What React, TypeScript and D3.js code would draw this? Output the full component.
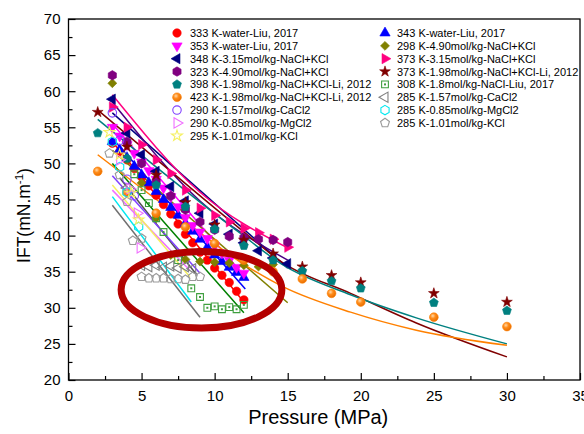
import React, { useEffect, useRef } from 'react';
import * as d3 from 'd3';

const FONT = "Arial, 'Liberation Sans', sans-serif";

// ticks
const xTicks = [0, 5, 10, 15, 20, 25, 30, 35];
const xMinorTicks = [2.5, 7.5, 12.5, 17.5, 22.5, 27.5, 32.5];
const yTicks = [20, 25, 30, 35, 40, 45, 50, 55, 60, 65, 70];
const yMinorTicks = [22.5, 27.5, 32.5, 37.5, 42.5, 47.5, 52.5, 57.5, 62.5, 67.5];

// Liu 2017, water
const pLiu = [3, 3.5, 4, 4.5, 5, 5.5, 6, 6.5, 7, 7.5, 8, 8.5, 9, 9.5, 10, 10.5, 11, 11.5, 12];
const ift333 = [52.8, 51.6, 50.5, 49.3, 48.1, 46.9, 45.6, 44.3, 43.0, 41.6, 40.2, 39.0, 37.7, 36.6, 35.5, 34.5, 33.5, 32.3, 31.1];
const ift343 = [53.0, 51.9, 50.8, 49.6, 48.4, 47.3, 46.1, 45.0, 43.9, 42.8, 41.7, 40.6, 39.5, 38.4, 37.3, 36.4, 35.6, 34.9, 34.2];
const ift353 = [55.0, 53.8, 52.6, 51.4, 50.2, 49.0, 47.8, 46.6, 45.4, 44.0, 42.5, 41.4, 40.5, 39.6, 38.6, 37.6, 36.6, 35.6, 34.8];
const fit333 = [[3, 53.0], [12, 30.8]];
const fit343 = [[3, 53.5], [12.1, 32.6]];
const fit353 = [[3, 55.5], [12, 34.5]];

// NaCl+KCl brines
const p298 = [3, 4, 5, 6, 7, 8, 9, 10, 11, 12, 13, 14];
const ift298 = [61.1, 50.5, 47.3, 42.4, 37.3, 36.7, 36.4, 36.3, 36.2, 35.9, 35.7, 36.0];
const fit298 = [[3, 51.8], [15, 30.7]];
const pNaKCl = [3, 4, 5, 6, 7, 8, 9, 10, 11, 12, 13, 14, 15];
const ift348 = [58.9, 54.2, 51.2, 48.9, 46.8, 44.8, 43.1, 41.6, 40.2, 39.0, 37.9, 36.9, 36.1];
const fit348 = [[3, 57.0], [15, 35.5]];
const ift373p = [57.8, 55.0, 52.6, 50.5, 48.6, 46.3, 43.8, 42.8, 41.9, 41.0, 40.4, 39.5, 38.4];
const fit373p = [[3, 59.5], [9, 46.0], [15, 38.3]];
const ift323 = [62.2, 53.0, 50.0, 47.5, 45.5, 43.6, 41.9, 40.8, 39.9, 39.7, 39.5, 39.4, 39.1];
const fit323 = [[3, 58.5], [9, 44.8], [15, 36.6]];

// Li 2012, NaCl+KCl 1.98 mol/kg
const pLi = [2, 4, 6, 8, 10, 12, 14, 16, 18, 20, 25, 30];
const ift373m = [57.1, 52.3, 48.4, 44.6, 41.5, 39.4, 37.5, 35.7, 34.5, 33.5, 32.0, 30.8];
const ift398 = [54.2, 50.7, 47.0, 44.0, 40.9, 38.6, 36.6, 35.1, 33.7, 32.7, 30.7, 29.6];
const ift423 = [48.9, 46.0, 43.1, 41.2, 38.9, 36.6, 35.0, 34.0, 32.0, 30.8, 28.7, 27.4];
const fit373m = [[2, 57.4], [6, 50.6], [11.7, 41.0], [14.7, 36.2], [19.3, 32.0], [23.8, 27.9], [30, 23.2]];
const fit398 = [[2, 56.1], [11.7, 40.4], [14.7, 35.9], [19.3, 31.8], [23.8, 28.6], [30, 25.0]];
const fit423 = [[2, 51.2], [7, 43.5], [12.4, 35.5], [14.7, 32.9], [19.3, 29.4], [23.8, 26.9], [30, 24.8]];

// Liu 2017, NaCl 1.8 mol/kg
const p308 = [4.5, 5, 5.5, 6, 6.5, 7.5, 8.4, 9, 9.5, 10, 10.5, 11, 11.5, 12];
const ift308 = [48.5, 46.3, 44.5, 42.4, 40.5, 36.6, 32.7, 31.5, 30.0, 30.2, 29.8, 30.1, 29.8, 30.4];
const fit308 = [[3, 50.0], [12, 29.3]];

// low temperature salts
const p290Ca = [3, 3.5, 4, 4.5];
const ift290Ca = [57.0, 53.2, 47.8, 45.5];
const fit290Ca = [[3, 48.3], [9, 34.8]];
const p290Mg = [3.5, 4.2, 4.7, 4.9];
const ift290Mg = [50.5, 46.5, 43.1, 38.3];
const fit290Mg = [[3, 46.3], [8.3, 35.2]];
const p295K = [2.8, 3.5, 4.3, 4.8];
const ift295K = [54.3, 51.2, 45.9, 42.2];
const fit295K = [[3, 47.0], [8.3, 34.3]];
const p285Ca = [4, 5, 5.5, 6, 6.5, 7, 7.5, 8, 8.5];
const ift285Ca = [46.6, 35.9, 35.7, 35.9, 35.6, 35.8, 35.5, 35.7, 35.4];
const fit285Ca = [[3.5, 48.0], [8.8, 34.5]];
const p285Mg = [3, 3.5, 4, 4.8];
const ift285Mg = [53.0, 49.5, 46.0, 41.2];
const fit285Mg = [[3, 45.4], [8.4, 30.8]];
const p285K = [2.8, 3.5, 4, 4.4, 5, 5, 5.5, 6, 6.5, 7, 7.5, 8, 8.5, 9];
const ift285K = [51.4, 48.4, 44.7, 39.3, 39.6, 34.3, 34.1, 34.1, 34.1, 34.0, 34.0, 33.9, 34.3, 34.3];
const fit285K = [[3, 44.2], [9, 28.7]];

// highlighted region (annotation)
const ellipseCenter = [9.1, 32.5];
const ellipseRadius = [5.5, 5.3];

type Shape = 'circle' | 'triUp' | 'triDown' | 'triLeft' | 'triRight' | 'diamond' | 'star' | 'square' | 'pentagon' | 'hexagon' | 'sphere';

interface Series {
  label: string;
  xs: number[];
  ys: number[];
  fit: number[][];
  color: string;
  lineColor?: string;
  shape: Shape;
  filled: boolean;
}

// legend order (row by row, two columns)
const series: Series[] = [
  { label: '333 K-water-Liu, 2017', xs: pLiu, ys: ift333, fit: fit333, color: '#ff0000', shape: 'circle', filled: true },
  { label: '343 K-water-Liu, 2017', xs: pLiu, ys: ift343, fit: fit343, color: '#0000ff', shape: 'triUp', filled: true },
  { label: '353 K-water-Liu, 2017', xs: pLiu, ys: ift353, fit: fit353, color: '#ff00ff', shape: 'triDown', filled: true },
  { label: '298 K-4.90mol/kg-NaCl+KCl', xs: p298, ys: ift298, fit: fit298, color: '#808000', shape: 'diamond', filled: true },
  { label: '348 K-3.15mol/kg-NaCl+KCl', xs: pNaKCl, ys: ift348, fit: fit348, color: '#000080', shape: 'triLeft', filled: true },
  { label: '373 K-3.15mol/kg-NaCl+KCl', xs: pNaKCl, ys: ift373p, fit: fit373p, color: '#ff0080', shape: 'triRight', filled: true },
  { label: '323 K-4.90mol/kg-NaCl+KCl', xs: pNaKCl, ys: ift323, fit: fit323, color: '#800080', lineColor: '#4b0082', shape: 'hexagon', filled: true },
  { label: '373 K-1.98mol/kg-NaCl+KCl-Li, 2012', xs: pLi, ys: ift373m, fit: fit373m, color: '#800000', shape: 'star', filled: true },
  { label: '398 K-1.98mol/kg-NaCl+KCl-Li, 2012', xs: pLi, ys: ift398, fit: fit398, color: '#008080', shape: 'pentagon', filled: true },
  { label: '308 K-1.8mol/kg-NaCl-Liu, 2017', xs: p308, ys: ift308, fit: fit308, color: '#3f9f3f', lineColor: '#008000', shape: 'square', filled: false },
  { label: '423 K-1.98mol/kg-NaCl+KCl-Li, 2012', xs: pLi, ys: ift423, fit: fit423, color: '#ff8000', shape: 'sphere', filled: true },
  { label: '285 K-1.57mol/kg-CaCl2', xs: p285Ca, ys: ift285Ca, fit: fit285Ca, color: '#808080', lineColor: '#505050', shape: 'triLeft', filled: false },
  { label: '290 K-1.57mol/kg-CaCl2', xs: p290Ca, ys: ift290Ca, fit: fit290Ca, color: '#8040ff', shape: 'circle', filled: false },
  { label: '285 K-0.85mol/kg-MgCl2', xs: p285Mg, ys: ift285Mg, fit: fit285Mg, color: '#00e8f0', shape: 'hexagon', filled: false },
  { label: '290 K-0.85mol/kg-MgCl2', xs: p290Mg, ys: ift290Mg, fit: fit290Mg, color: '#f070ff', shape: 'triRight', filled: false },
  { label: '285 K-1.01mol/kg-KCl', xs: p285K, ys: ift285K, fit: fit285K, color: '#9a9a9a', lineColor: '#707070', shape: 'pentagon', filled: false },
  { label: '295 K-1.01mol/kg-KCl', xs: p295K, ys: ift295K, fit: fit295K, color: '#f5f060', shape: 'star', filled: false },
];

const polygon = (n: number) => ({
  draw(ctx: any, size: number) {
    const r = Math.sqrt((2 * size) / (n * Math.sin((2 * Math.PI) / n)));
    for (let i = 0; i < n; i++) {
      const a = (i * 2 * Math.PI) / n;
      const px = r * Math.sin(a);
      const py = -r * Math.cos(a);
      if (i === 0) ctx.moveTo(px, py);
      else ctx.lineTo(px, py);
    }
    ctx.closePath();
  },
});

const shapeDefs: Record<Shape, { type: any; size: number; rotate: number }> = {
  circle: { type: d3.symbolCircle, size: 56, rotate: 0 },
  sphere: { type: d3.symbolCircle, size: 60, rotate: 0 },
  triUp: { type: d3.symbolTriangle, size: 46, rotate: 0 },
  triDown: { type: d3.symbolTriangle, size: 46, rotate: 180 },
  triLeft: { type: d3.symbolTriangle, size: 46, rotate: -90 },
  triRight: { type: d3.symbolTriangle, size: 46, rotate: 90 },
  diamond: { type: d3.symbolSquare, size: 40, rotate: 45 },
  star: { type: d3.symbolStar, size: 36, rotate: 0 },
  square: { type: d3.symbolSquare, size: 46, rotate: 0 },
  pentagon: { type: polygon(5), size: 52, rotate: 0 },
  hexagon: { type: polygon(6), size: 58, rotate: 0 },
};

const W = 584;
const H = 434;

function drawMarker(g: any, s: Series, cx: number, cy: number) {
  const def = shapeDefs[s.shape];
  const path = d3.symbol().type(def.type).size(def.size)();
  const fill = s.filled ? (s.shape === 'sphere' ? 'url(#sphere)' : s.color) : 'none';
  g.append('path')
    .attr('d', path)
    .attr('transform', `translate(${cx},${cy}) rotate(${def.rotate})`)
    .attr('fill', fill)
    .attr('stroke', s.color)
    .attr('stroke-width', s.filled ? 0.6 : 1.1);
  if (s.shape === 'square') {
    g.append('rect').attr('x', cx - 1).attr('y', cy - 1).attr('width', 2).attr('height', 2).attr('fill', s.color);
  }
}

export default function App() {
  const ref = useRef<SVGSVGElement>(null);

  useEffect(() => {
    const svg = d3.select(ref.current);
    svg.selectAll('*').remove();

    const x = d3.scaleLinear().domain([0, 35]).range([68.5, 580]);
    const y = d3.scaleLinear().domain([20, 70]).range([380, 19]);

    const defs = svg.append('defs');
    const grad = defs.append('radialGradient').attr('id', 'sphere').attr('cx', '38%').attr('cy', '35%').attr('r', '65%');
    grad.append('stop').attr('offset', '0%').attr('stop-color', '#ffd9a8');
    grad.append('stop').attr('offset', '45%').attr('stop-color', '#ff8c1a');
    grad.append('stop').attr('offset', '100%').attr('stop-color', '#e86e00');

    // fit lines
    const line = d3.line<number[]>()
      .x(d => x(d[0]))
      .y(d => y(d[1]))
      .curve(d3.curveMonotoneX);
    const lines = svg.append('g');
    series.forEach(s => {
      lines.append('path')
        .attr('d', line(s.fit))
        .attr('fill', 'none')
        .attr('stroke', s.lineColor || s.color)
        .attr('stroke-width', 1.5);
    });

    // points
    const pts = svg.append('g');
    series.forEach(s => {
      s.xs.forEach((xv, i) => drawMarker(pts, s, x(xv), y(s.ys[i])));
    });

    // annotation ellipse
    svg.append('ellipse')
      .attr('cx', x(ellipseCenter[0]))
      .attr('cy', y(ellipseCenter[1]))
      .attr('rx', x(ellipseCenter[0] + ellipseRadius[0]) - x(ellipseCenter[0]))
      .attr('ry', y(ellipseCenter[1]) - y(ellipseCenter[1] + ellipseRadius[1]))
      .attr('fill', 'none')
      .attr('stroke', '#b40000')
      .attr('stroke-width', 7);

    // axes
    const styleAxis = (g: any) => {
      g.attr('font-family', FONT).attr('font-size', 15);
      g.select('.domain').remove();
      g.selectAll('line').attr('stroke', '#000').attr('stroke-width', 1.2);
      g.selectAll('text').attr('fill', '#000');
    };
    svg.append('g')
      .attr('transform', `translate(0,${y(20)})`)
      .call(d3.axisBottom(x).tickValues(xTicks).tickSize(-7).tickSizeOuter(0).tickPadding(10).tickFormat(d3.format('d')))
      .call(styleAxis);
    svg.append('g')
      .attr('transform', `translate(0,${y(20)})`)
      .call(d3.axisBottom(x).tickValues(xMinorTicks).tickSize(-4).tickSizeOuter(0).tickFormat(() => ''))
      .call(styleAxis);
    svg.append('g')
      .attr('transform', `translate(${x(0)},0)`)
      .call(d3.axisLeft(y).tickValues(yTicks).tickSize(-7).tickSizeOuter(0).tickPadding(8).tickFormat(d3.format('d')))
      .call(styleAxis);
    svg.append('g')
      .attr('transform', `translate(${x(0)},0)`)
      .call(d3.axisLeft(y).tickValues(yMinorTicks).tickSize(-4).tickSizeOuter(0).tickFormat(() => ''))
      .call(styleAxis);

    svg.append('rect')
      .attr('x', x(0)).attr('y', y(70))
      .attr('width', x(35) - x(0)).attr('height', y(20) - y(70))
      .attr('fill', 'none').attr('stroke', '#000').attr('stroke-width', 1.3);

    // axis titles
    svg.append('text')
      .attr('x', (x(0) + x(35)) / 2 - 6).attr('y', 424)
      .attr('text-anchor', 'middle')
      .attr('font-family', FONT).attr('font-size', 20)
      .text('Pressure (MPa)');
    const yl = svg.append('text')
      .attr('transform', `translate(30,${(y(20) + y(70)) / 2 + 16}) rotate(-90)`)
      .attr('text-anchor', 'middle')
      .attr('font-family', FONT).attr('font-size', 17.5);
    yl.append('tspan').text('IFT(mN.m');
    yl.append('tspan').attr('dy', -7).attr('font-size', 11.5).text('-1');
    yl.append('tspan').attr('dy', 7).text(')');

    // legend
    const legend = svg.append('g').attr('font-family', FONT).attr('font-size', 11);
    const colMarker = [177, 385];
    const colText = [190, 397];
    series.forEach((s, i) => {
      const col = i % 2;
      const row = Math.floor(i / 2);
      const ly = 33 + row * 12.85;
      drawMarker(legend, s, colMarker[col], ly);
      legend.append('text')
        .attr('x', colText[col]).attr('y', ly)
        .attr('dy', '0.36em')
        .attr('fill', '#000')
        .text(s.label);
    });
  }, []);

  return (
    <svg
      ref={ref}
      width={W}
      height={H}
      style={{ position: 'absolute', left: 0, top: 0, background: '#fff' }}
    />
  );
}
